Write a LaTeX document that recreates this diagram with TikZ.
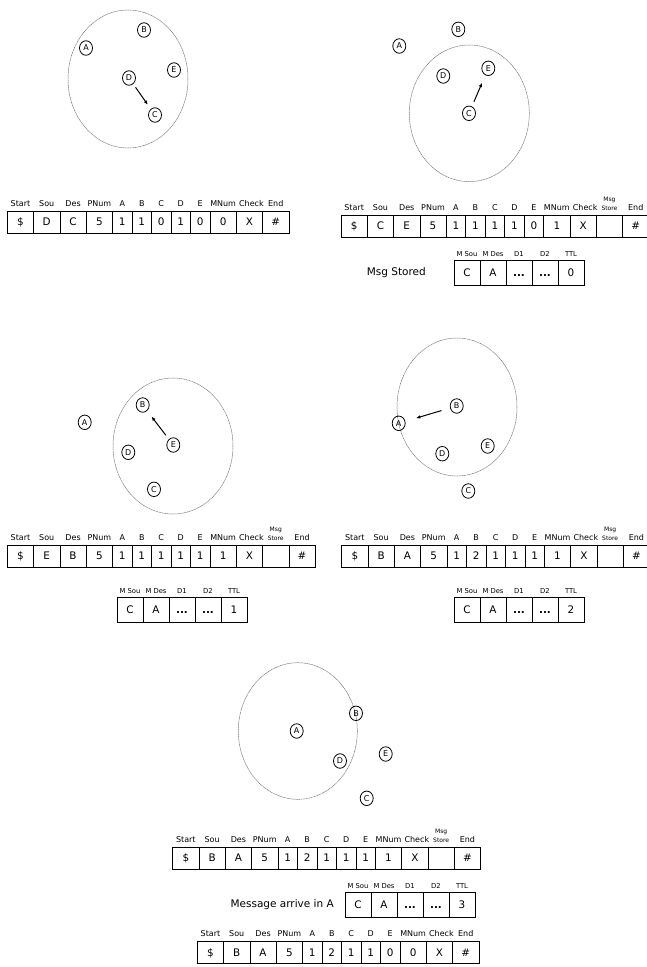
\documentclass[tikz,border=0pt]{standalone}
\usepackage{fontspec}
\setmainfont{DejaVu Sans}
\usetikzlibrary{positioning, arrows.meta, shapes.geometric}
\newcommand{\msgst}{{\fontsize{6}{6.5}\selectfont\shortstack{Msg\\Store}}}
\newcommand{\dd}{\textbf{...}}
\newcommand{\mnum}{MNum\hspace{3pt}}
\newcommand{\chk}{\hspace{4pt}Check}

\begin{document}
\begin{tikzpicture}[x=1pt, y=-1pt,
  stn/.style={draw, ellipse, minimum width=13pt, minimum height=14.5pt, inner sep=0pt, line width=0.8pt, font=\fontsize{8}{8}\selectfont},
  zone/.style={draw=black!55, line width=0.5pt, dash pattern=on 1.2pt off 0.5pt},
  cell/.style={draw, line width=0.7pt, outer sep=0pt, inner sep=0pt, minimum height=22pt, text height=7.5pt, text depth=0pt, font=\fontsize{10.4}{12}\selectfont},
  scell/.style={cell, minimum width=26pt, minimum height=25pt},
  lbl/.style={anchor=base, inner sep=0pt, font=\fontsize{8}{9}\selectfont},
  slbl/.style={anchor=base, inner sep=0pt, font=\fontsize{6.8}{7}\selectfont},
  note/.style={inner sep=0pt, font=\fontsize{10.5}{12}\selectfont},
  arr/.style={-{Latex[length=4.5pt, width=3.5pt]}, line width=1pt}
]
\useasboundingbox (0,0) rectangle (646,967);

% step 1: D sends to C
\draw[zone] (128,79) ellipse [x radius=60pt, y radius=69pt];
\node[stn] (A1) at (86,48) {A};
\node[stn] (B1) at (144,30) {B};
\node[stn] (E1) at (174,70) {E};
\node[stn] (D1) at (129,78) {D};
\node[stn] (C1) at (155,115) {C};
\draw[arr, shorten <=4pt, shorten >=5pt] (D1) -- (C1);

\coordinate (t1-0) at (7.3,222);
\foreach \l/\v/\w [count=\i, remember=\i as \j (initially 0)] in {Start/\$/26.3, Sou/D/26.3, Des/C/26.3, PNum/5/26.3, A/1/19.5, B/1/19.5, C/0/19.5, D/1/19.5, E/0/19.5, \mnum/0/26.3, \chk/X/26.3, End/\#/26.3}{
  \node[cell, minimum width=\w pt, right=0pt of t1-\j] (t1-\i) {\v};
  \node[lbl] (t1l-\i) at ([yshift=5pt]t1-\i.north) {\l};
}

% step 2: C sends to E, message stored
\draw[zone] (469.3,113.3) ellipse [x radius=60pt, y radius=68.3pt];
\node[stn] (A2) at (399.3,46) {A};
\node[stn] (B2) at (458.3,29.3) {B};
\node[stn] (D2) at (443.3,76) {D};
\node[stn] (E2) at (488.3,68.3) {E};
\node[stn] (C2) at (469,113.3) {C};
\draw[arr, shorten <=5pt, shorten >=8pt] (C2) -- (E2);

\coordinate (t2-0) at (341,226);
\foreach \l/\v/\w [count=\i, remember=\i as \j (initially 0)] in {Start/\$/26.3, Sou/C/26.3, Des/E/26.3, PNum/5/26.3, A/1/19.5, B/1/19.5, C/1/19.5, D/1/19.5, E/0/19.5, \mnum/1/26.3, \chk/X/26.3, \msgst/{}/26.3, End/\#/26.3}{
  \node[cell, minimum width=\w pt, right=0pt of t2-\j] (t2-\i) {\v};
  \node[lbl] (t2l-\i) at ([yshift=5pt]t2-\i.north) {\l};
}
\coordinate (s2-0) at (454,273);
\foreach \l/\v [count=\i, remember=\i as \j (initially 0)] in {M Sou/C, M Des/A, D1/\dd, D2/\dd, TTL/0}{
  \node[scell, right=0pt of s2-\j] (s2-\i) {\v};
  \node[slbl] (s2l-\i) at ([yshift=4pt]s2-\i.north) {\l};
}
\node[note, left=28pt of s2-1] (s2n) {Msg Stored};

% step 3: E sends to B
\draw[zone] (173,446) ellipse [x radius=60pt, y radius=68pt];
\node[stn] (A3) at (84.7,422.3) {A};
\node[stn] (B3) at (142.7,405) {B};
\node[stn] (E3) at (173.3,445) {E};
\node[stn] (D3) at (128.3,452.3) {D};
\node[stn] (C3) at (154,489.3) {C};
\draw[arr, shorten <=5pt, shorten >=7pt] (E3) -- (B3);

\coordinate (t3-0) at (7.3,556);
\foreach \l/\v/\w [count=\i, remember=\i as \j (initially 0)] in {Start/\$/26.3, Sou/E/26.3, Des/B/26.3, PNum/5/26.3, A/1/19.5, B/1/19.5, C/1/19.5, D/1/19.5, E/1/19.5, \mnum/1/26.3, \chk/X/26.3, \msgst/{}/26.3, End/\#/26.3}{
  \node[cell, minimum width=\w pt, right=0pt of t3-\j] (t3-\i) {\v};
  \node[lbl] (t3l-\i) at ([yshift=5pt]t3-\i.north) {\l};
}
\coordinate (s3-0) at (117,610);
\foreach \l/\v [count=\i, remember=\i as \j (initially 0)] in {M Sou/C, M Des/A, D1/\dd, D2/\dd, TTL/1}{
  \node[scell, right=0pt of s3-\j] (s3-\i) {\v};
  \node[slbl] (s3l-\i) at ([yshift=4pt]s3-\i.north) {\l};
}

% step 4: B sends to A
\draw[zone] (457,407) ellipse [x radius=60pt, y radius=69pt];
\node[stn] (B4) at (456.7,406) {B};
\node[stn] (A4) at (398.7,423.3) {A};
\node[stn] (E4) at (487.7,446) {E};
\node[stn] (D4) at (442.3,453.7) {D};
\node[stn] (C4) at (468.3,491) {C};
\draw[arr, shorten <=9pt, shorten >=11pt] (B4) -- (A4);

\coordinate (t4-0) at (341.7,556);
\foreach \l/\v/\w [count=\i, remember=\i as \j (initially 0)] in {Start/\$/26.3, Sou/B/26.3, Des/A/26.3, PNum/5/26.3, A/1/19.5, B/2/19.5, C/1/19.5, D/1/19.5, E/1/19.5, \mnum/1/26.3, \chk/X/26.3, \msgst/{}/26.3, End/\#/26.3}{
  \node[cell, minimum width=\w pt, right=0pt of t4-\j] (t4-\i) {\v};
  \node[lbl] (t4l-\i) at ([yshift=5pt]t4-\i.north) {\l};
}
\coordinate (s4-0) at (454,610);
\foreach \l/\v [count=\i, remember=\i as \j (initially 0)] in {M Sou/C, M Des/A, D1/\dd, D2/\dd, TTL/2}{
  \node[scell, right=0pt of s4-\j] (s4-\i) {\v};
  \node[slbl] (s4l-\i) at ([yshift=4pt]s4-\i.north) {\l};
}

% step 5: message arrives in A
\draw[zone] (297.8,731) ellipse [x radius=59.5pt, y radius=68.3pt];
\node[stn] (A5) at (296.7,731) {A};
\node[stn] (B5) at (356,713.3) {B};
\node[stn] (E5) at (385.7,754) {E};
\node[stn] (D5) at (340,761) {D};
\node[stn] (C5) at (366.7,798.3) {C};

\coordinate (t5-0) at (172.7,858);
\foreach \l/\v/\w [count=\i, remember=\i as \j (initially 0)] in {Start/\$/26.3, Sou/B/26.3, Des/A/26.3, PNum/5/26.3, A/1/19.5, B/2/19.5, C/1/19.5, D/1/19.5, E/1/19.5, \mnum/1/26.3, \chk/X/26.3, \msgst/{}/26.3, End/\#/26.3}{
  \node[cell, minimum width=\w pt, right=0pt of t5-\j] (t5-\i) {\v};
  \node[lbl] (t5l-\i) at ([yshift=5pt]t5-\i.north) {\l};
}
\coordinate (s5-0) at (345,905);
\foreach \l/\v [count=\i, remember=\i as \j (initially 0)] in {M Sou/C, M Des/A, D1/\dd, D2/\dd, TTL/3}{
  \node[scell, right=0pt of s5-\j] (s5-\i) {\v};
  \node[slbl] (s5l-\i) at ([yshift=4pt]s5-\i.north) {\l};
}
\node[note, left=11pt of s5-1] (s5n) {Message arrive in A};

\coordinate (t6-0) at (197.3,952.5);
\foreach \l/\v/\w [count=\i, remember=\i as \j (initially 0)] in {Start/\$/26.3, Sou/B/26.3, Des/A/26.3, PNum/5/26.3, A/1/19.5, B/2/19.5, C/1/19.5, D/1/19.5, E/0/19.5, \mnum/0/26.3, \chk/X/26.3, End/\#/26.3}{
  \node[cell, minimum width=\w pt, right=0pt of t6-\j] (t6-\i) {\v};
  \node[lbl] (t6l-\i) at ([yshift=5pt]t6-\i.north) {\l};
}
\end{tikzpicture}
\end{document}
